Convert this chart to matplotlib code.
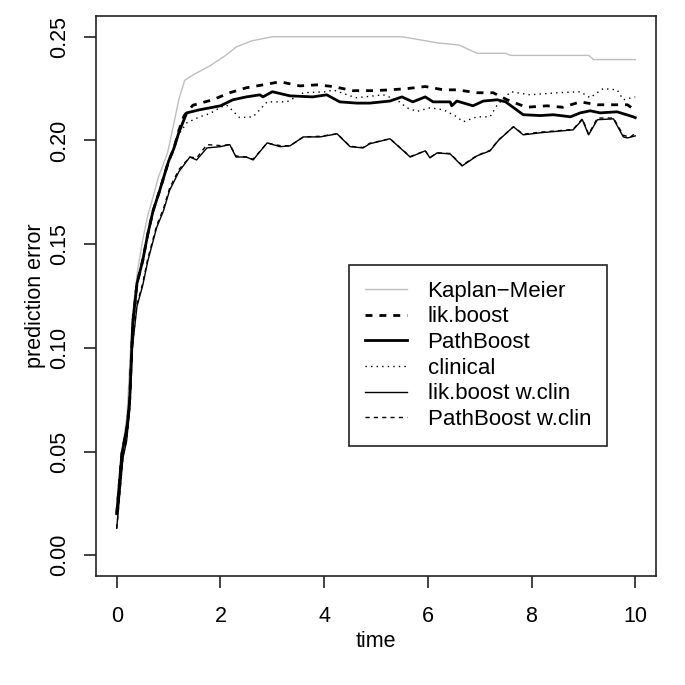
import matplotlib
matplotlib.use("Agg")
import matplotlib.pyplot as plt

plt.rcParams["font.family"] = ["Liberation Sans", "DejaVu Sans"]

# --- values (time, prediction error) ---
km_t = [0, 0.1, 0.2, 0.3, 0.4, 0.5, 0.6, 0.67, 0.8, 0.98, 1.1, 1.2, 1.31, 1.5, 1.8,
        2.1, 2.3, 2.6, 3.0, 5.5, 6.2, 6.6, 6.95, 7.5, 7.6, 9.1, 9.2, 10]
km_v = [0.020, 0.050, 0.068, 0.115, 0.137, 0.152, 0.164, 0.170, 0.182, 0.194, 0.208,
        0.220, 0.229, 0.232, 0.236, 0.241, 0.245, 0.248, 0.250, 0.250, 0.247, 0.246,
        0.242, 0.242, 0.241, 0.241, 0.239, 0.239]

lik_t = [0, 0.1, 0.2, 0.25, 0.31, 0.39, 0.5, 0.6, 0.7, 0.83, 1.0, 1.1, 1.2, 1.3, 1.47,
         1.85, 2.18, 2.5, 2.82, 3.15, 3.53, 3.86, 4.17, 4.56, 4.95, 5.27, 5.6, 5.95,
         6.3, 6.56, 6.95, 7.26, 7.53, 7.9, 8.3, 8.6, 8.94, 9.27, 9.65, 9.85, 10]
lik_v = [0.020, 0.049, 0.062, 0.075, 0.112, 0.131, 0.142, 0.155, 0.166, 0.176, 0.190,
         0.196, 0.205, 0.212, 0.217, 0.2196, 0.223, 0.2254, 0.2268, 0.2283, 0.2263,
         0.2268, 0.226, 0.224, 0.224, 0.2244, 0.225, 0.226, 0.2244, 0.2244, 0.223,
         0.223, 0.2196, 0.216, 0.2167, 0.216, 0.2186, 0.2172, 0.2172, 0.2172, 0.2145]

pb_t = [0, 0.1, 0.2, 0.25, 0.31, 0.39, 0.5, 0.6, 0.7, 0.83, 1.0, 1.1, 1.2, 1.35, 1.6,
        2.0, 2.24, 2.5, 2.76, 2.82, 3.0, 3.34, 3.78, 4.05, 4.3, 4.63, 4.88, 5.27, 5.5,
        5.71, 5.95, 6.1, 6.43, 6.46, 6.56, 6.87, 7.07, 7.34, 7.5, 7.84, 8.17, 8.42,
        8.75, 8.94, 9.13, 9.32, 9.65, 9.96, 10]
pb_v = [0.020, 0.049, 0.062, 0.075, 0.112, 0.131, 0.142, 0.155, 0.166, 0.176, 0.190,
        0.196, 0.204, 0.2133, 0.2148, 0.2167, 0.2196, 0.221, 0.222, 0.221, 0.2235,
        0.2215, 0.221, 0.222, 0.2186, 0.218, 0.218, 0.219, 0.221, 0.2186, 0.221,
        0.2186, 0.2186, 0.2167, 0.219, 0.2167, 0.219, 0.2196, 0.2186, 0.2124, 0.212,
        0.2124, 0.2114, 0.2133, 0.2143, 0.2133, 0.2138, 0.2114, 0.211]

clin_t = [0, 0.1, 0.2, 0.25, 0.31, 0.39, 0.5, 0.6, 0.7, 0.83, 1.0, 1.1, 1.2, 1.35, 1.6,
          1.8, 2.0, 2.12, 2.18, 2.37, 2.63, 2.9, 3.28, 3.6, 4.05, 4.17, 4.56, 4.63,
          5.14, 5.4, 5.6, 5.79, 6.04, 6.3, 6.56, 6.68, 6.95, 7.2, 7.34, 7.6, 7.97, 8.5,
          8.94, 9.13, 9.38, 9.65, 9.77, 10]
clin_v = [0.020, 0.049, 0.062, 0.075, 0.112, 0.131, 0.142, 0.155, 0.166, 0.176, 0.190,
          0.196, 0.203, 0.2085, 0.2114, 0.213, 0.216, 0.217, 0.2157, 0.211, 0.2114,
          0.2186, 0.2186, 0.223, 0.2235, 0.2244, 0.221, 0.2206, 0.222, 0.2196, 0.2157,
          0.214, 0.2157, 0.2148, 0.2114, 0.209, 0.2114, 0.2114, 0.2172, 0.2235, 0.222,
          0.223, 0.2235, 0.2206, 0.225, 0.2244, 0.2196, 0.221]

likc_t = [0, 0.12, 0.19, 0.25, 0.3, 0.39, 0.5, 0.6, 0.77, 0.9, 1.02, 1.2, 1.41, 1.54,
          1.74, 2.0, 2.18, 2.3, 2.5, 2.63, 2.9, 3.15, 3.34, 3.6, 3.92, 4.25, 4.5, 4.75,
          4.88, 5.27, 5.66, 5.95, 6.04, 6.18, 6.43, 6.66, 6.95, 7.2, 7.36, 7.65, 7.84,
          8.17, 8.8, 8.98, 9.1, 9.27, 9.58, 9.77, 9.85, 10]
likc_v = [0.013, 0.047, 0.055, 0.070, 0.100, 0.120, 0.130, 0.142, 0.158, 0.166, 0.176,
          0.185, 0.192, 0.1906, 0.1964, 0.197, 0.198, 0.192, 0.192, 0.1906, 0.1988,
          0.197, 0.1974, 0.2017, 0.2017, 0.2032, 0.197, 0.1964, 0.1984, 0.2008, 0.192,
          0.195, 0.1916, 0.194, 0.1935, 0.1877, 0.1926, 0.195, 0.200, 0.2066, 0.2027,
          0.2037, 0.2051, 0.210, 0.2027, 0.210, 0.2104, 0.2017, 0.2012, 0.2022]

pbc_t = [0, 0.12, 0.19, 0.25, 0.3, 0.39, 0.5, 0.6, 0.77, 0.9, 1.02, 1.2, 1.41, 1.54,
         1.74, 2.0, 2.18, 2.3, 2.5, 2.63, 2.9, 3.15, 3.34, 3.6, 3.92, 4.25, 4.5, 4.75,
         4.88, 5.27, 5.66, 5.95, 6.04, 6.18, 6.43, 6.66, 6.95, 7.2, 7.36, 7.65, 7.84,
         8.17, 8.8, 8.98, 9.1, 9.27, 9.58, 9.77, 9.9, 10]
pbc_v = [0.013, 0.047, 0.056, 0.071, 0.101, 0.121, 0.131, 0.143, 0.159, 0.167, 0.177,
         0.186, 0.192, 0.1915, 0.198, 0.1975, 0.198, 0.1925, 0.192, 0.191, 0.1988,
         0.1975, 0.1974, 0.2017, 0.202, 0.2032, 0.1972, 0.1966, 0.1986, 0.2008, 0.1922,
         0.195, 0.1918, 0.194, 0.1937, 0.188, 0.1928, 0.1952, 0.2002, 0.2066, 0.203,
         0.204, 0.2053, 0.2105, 0.203, 0.2108, 0.2108, 0.2025, 0.2015, 0.2035]

labels = ["Kaplan\u2212Meier", "lik.boost", "PathBoost", "clinical",
          "lik.boost w.clin", "PathBoost w.clin"]

fig = plt.figure(figsize=(6.85, 6.85), dpi=100)
ax = fig.add_axes([96 / 685, 1 - 576 / 685, 560 / 685, 560 / 685])

ax.plot(km_t, km_v, color="#bebebe", lw=1.0, label=labels[0])
ax.plot(lik_t, lik_v, color="black", lw=2.0, ls=(0, (2.5, 2.5)), label=labels[1])
ax.plot(pb_t, pb_v, color="black", lw=2.0, label=labels[2])
ax.plot(clin_t, clin_v, color="black", lw=1.0, ls=(0, (1, 3)), label=labels[3])
ax.plot(likc_t, likc_v, color="black", lw=1.0, label=labels[4])
ax.plot(pbc_t, pbc_v, color="black", lw=1.0, ls=(0, (3, 3)), label=labels[5])

ax.set_xlim(-0.4, 10.4)
ax.set_ylim(-0.01, 0.26)
ax.set_xticks([0, 2, 4, 6, 8, 10])
ax.set_yticks([0.0, 0.05, 0.10, 0.15, 0.20, 0.25])
ax.set_yticklabels(["0.00", "0.05", "0.10", "0.15", "0.20", "0.25"])

for side in ("top", "right", "bottom", "left"):
    ax.spines[side].set_color("#222222")
    ax.spines[side].set_linewidth(1.2)

ax.tick_params(axis="both", direction="out", length=8.6, width=1.2,
               color="#222222", labelsize=15.5)
ax.tick_params(axis="x", pad=13)
ax.tick_params(axis="y", pad=10, labelrotation=90)
for lab in ax.get_yticklabels():
    lab.set_va("center")

ax.set_xlabel("time", fontsize=15.5)
ax.set_ylabel("prediction error", fontsize=15.5)
ax.xaxis.set_label_coords(0.5, -0.098)
ax.yaxis.set_label_coords(-0.089, 0.5)

leg = ax.legend(loc="upper left", bbox_to_anchor=(0.452, 0.555), borderaxespad=0,
                fontsize=16, handlelength=1.9, handletextpad=0.93,
                labelspacing=0.21, borderpad=0.7, fancybox=False, framealpha=1)
leg.get_frame().set_edgecolor("#222222")
leg.get_frame().set_linewidth(1.2)

fig.savefig("out.png", dpi=100)
